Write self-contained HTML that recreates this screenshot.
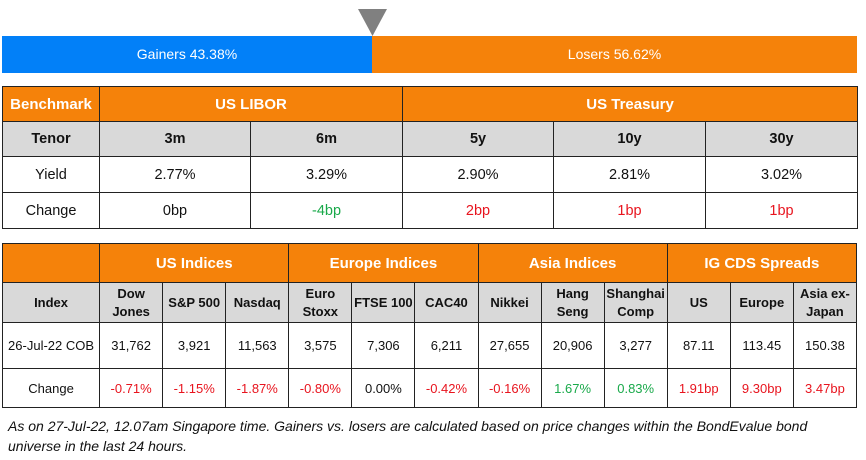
<!DOCTYPE html>
<html><head><style>
body{margin:0;width:866px;height:460px;background:#fff;font-family:"Liberation Sans",sans-serif;position:relative;overflow:hidden}
.bar{position:absolute;top:36px;height:37px;color:#fff;font-size:14px;line-height:37px;text-align:center}
table{position:absolute;left:2px;width:855px;border-collapse:collapse;table-layout:fixed;font-size:14px;text-align:center}
td{border:1.5px solid #222;padding:0;color:#111}
.h td{background:#f5820a;color:#fff;font-weight:bold;font-size:15px}
.s td{background:#d9d9d9;font-weight:bold}
.r{color:#e8141e!important}.g{color:#19a94a!important}
.note{position:absolute;left:8px;top:416px;font-style:italic;font-size:14px;line-height:20px;color:#111;width:850px}
</style></head><body>
<div class="bar" style="left:2px;width:370px;background:#0280f8">Gainers 43.38%</div>
<div class="bar" style="left:372px;width:485px;background:#f5820a">Losers 56.62%</div>
<svg style="position:absolute;left:358px;top:9px" width="29" height="27"><polygon points="0,0 29,0 14.5,27" fill="#808080"/></svg>
<table style="top:86px;font-size:14.5px">
<colgroup><col style="width:97px"><col style="width:151px"><col style="width:152px"><col style="width:151px"><col style="width:152px"><col style="width:152px"></colgroup>
<tr class="h" style="height:35px"><td>Benchmark</td><td colspan="2">US LIBOR</td><td colspan="3">US Treasury</td></tr>
<tr class="s" style="height:35px"><td>Tenor</td><td>3m</td><td>6m</td><td>5y</td><td>10y</td><td>30y</td></tr>
<tr style="height:36px"><td>Yield</td><td>2.77%</td><td>3.29%</td><td>2.90%</td><td>2.81%</td><td>3.02%</td></tr>
<tr style="height:36px"><td>Change</td><td>0bp</td><td class="g">-4bp</td><td class="r">2bp</td><td class="r">1bp</td><td class="r">1bp</td></tr>
</table>
<table style="top:243px;font-size:13px">
<colgroup><col style="width:97px"><col span="12" style="width:63px"></colgroup>
<tr class="h" style="height:39px"><td></td><td colspan="3">US Indices</td><td colspan="3">Europe Indices</td><td colspan="3">Asia Indices</td><td colspan="3">IG CDS Spreads</td></tr>
<tr class="s" style="height:40px;line-height:18px"><td>Index</td><td>Dow<br>Jones</td><td>S&amp;P 500</td><td>Nasdaq</td><td>Euro<br>Stoxx</td><td>FTSE 100</td><td>CAC40</td><td>Nikkei</td><td>Hang<br>Seng</td><td>Shanghai<br>Comp</td><td>US</td><td>Europe</td><td>Asia ex-<br>Japan</td></tr>
<tr style="height:46px"><td>26-Jul-22 COB</td><td>31,762</td><td>3,921</td><td>11,563</td><td>3,575</td><td>7,306</td><td>6,211</td><td>27,655</td><td>20,906</td><td>3,277</td><td>87.11</td><td>113.45</td><td>150.38</td></tr>
<tr style="height:39px"><td>Change</td><td class="r">-0.71%</td><td class="r">-1.15%</td><td class="r">-1.87%</td><td class="r">-0.80%</td><td>0.00%</td><td class="r">-0.42%</td><td class="r">-0.16%</td><td class="g">1.67%</td><td class="g">0.83%</td><td class="r">1.91bp</td><td class="r">9.30bp</td><td class="r">3.47bp</td></tr>
</table>
<div class="note">As on 27-Jul-22, 12.07am Singapore time. Gainers vs. losers are calculated based on price changes within the BondEvalue bond universe in the last 24 hours.</div>
</body></html>
